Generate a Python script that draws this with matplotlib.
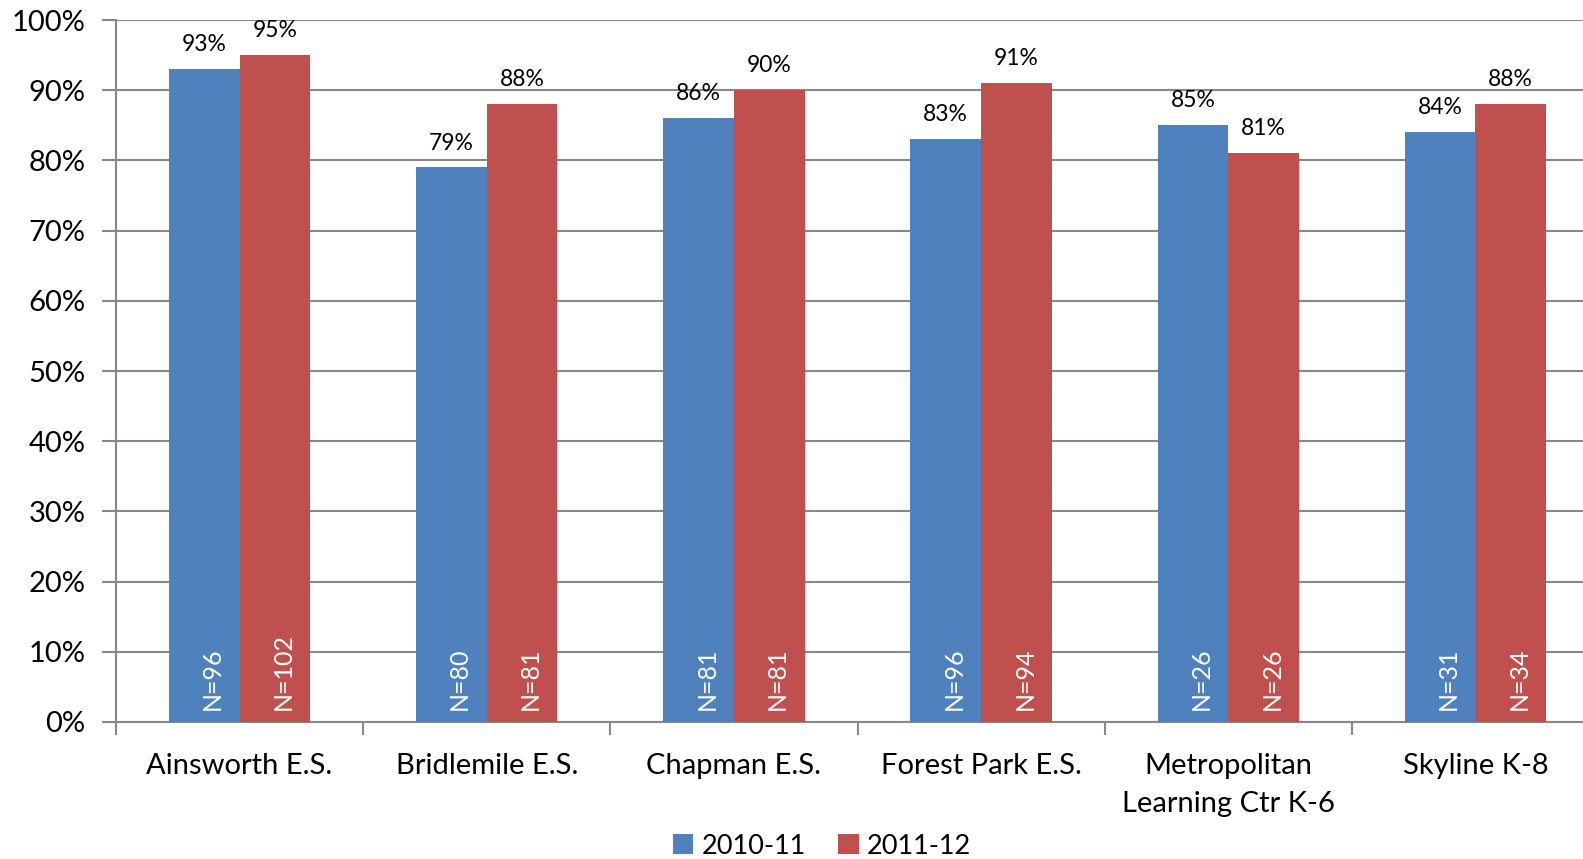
import matplotlib
matplotlib.use("Agg")
import matplotlib.pyplot as plt
import numpy as np
from matplotlib.ticker import PercentFormatter, FixedLocator

plt.rcParams['font.family'] = ['Lato', 'DejaVu Sans']

# Data
schools = ["Ainsworth E.S.", "Bridlemile E.S.", "Chapman E.S.", "Forest Park E.S.",
           "Metropolitan\nLearning Ctr K-6", "Skyline K-8"]
pct_2010 = [93, 79, 86, 83, 85, 84]
pct_2011 = [95, 88, 90, 91, 81, 88]
n_2010 = [96, 80, 81, 96, 26, 31]
n_2011 = [102, 81, 81, 94, 26, 34]
series_names = ["2010-11", "2011-12"]

blue = "#4F81BD"
red = "#C0504D"
grid_grey = "#888888"

fig = plt.figure(figsize=(15.83, 8.59), dpi=100)
ax = fig.add_axes([116 / 1583, 1 - 722 / 859, (1599 - 116) / 1583, (722 - 20) / 859])

x = np.arange(len(schools))
w = 0.286

bars1 = ax.bar(x - w / 2, pct_2010, w, color=blue, label=series_names[0], zorder=3)
bars2 = ax.bar(x + w / 2, pct_2011, w, color=red, label=series_names[1], zorder=3)

# Percent labels above bars, N labels inside bars
for bars, vals, ns in [(bars1, pct_2010, n_2010), (bars2, pct_2011, n_2011)]:
    for b, v, n in zip(bars, vals, ns):
        cx = b.get_x() + b.get_width() / 2
        ax.annotate(f"{v}%", (cx, v), xytext=(0, 10), textcoords="offset points",
                    ha="center", va="bottom", fontsize=16.5, color="black")
        ax.annotate(f"N={n}", (cx, 0), xytext=(6, 9), textcoords="offset points",
                    ha="center", va="bottom", rotation=90, fontsize=18, color="white",
                    zorder=4)

ax.set_xlim(-0.5, len(schools) - 0.5)
ax.set_ylim(0, 100)
ax.yaxis.set_major_locator(FixedLocator(np.arange(0, 101, 10)))
ax.yaxis.set_major_formatter(PercentFormatter(decimals=0))
ax.yaxis.grid(True, color=grid_grey, linewidth=1.5, zorder=0)

ax.set_xticks(x)
ax.set_xticklabels(schools, fontsize=21, linespacing=1.6)
ax.set_xticks(np.arange(-0.5, len(schools)), minor=True)
ax.tick_params(axis="x", which="major", length=0, pad=22)
ax.tick_params(axis="x", which="minor", length=9, width=1.5, color=grid_grey, direction="out")
ax.tick_params(axis="y", length=10, width=1.5, color=grid_grey, labelsize=21, pad=12)

for side in ["top", "right"]:
    ax.spines[side].set_visible(False)
for side in ["left", "bottom"]:
    ax.spines[side].set_color(grid_grey)
    ax.spines[side].set_linewidth(1.5)

fig.legend(loc="center", bbox_to_anchor=(822 / 1583, 1 - 846 / 859), ncol=2, frameon=False,
           fontsize=19.5, handlelength=0.75, handleheight=0.75, handletextpad=0.3, columnspacing=1.2)

fig.savefig("out.png", dpi=100)
